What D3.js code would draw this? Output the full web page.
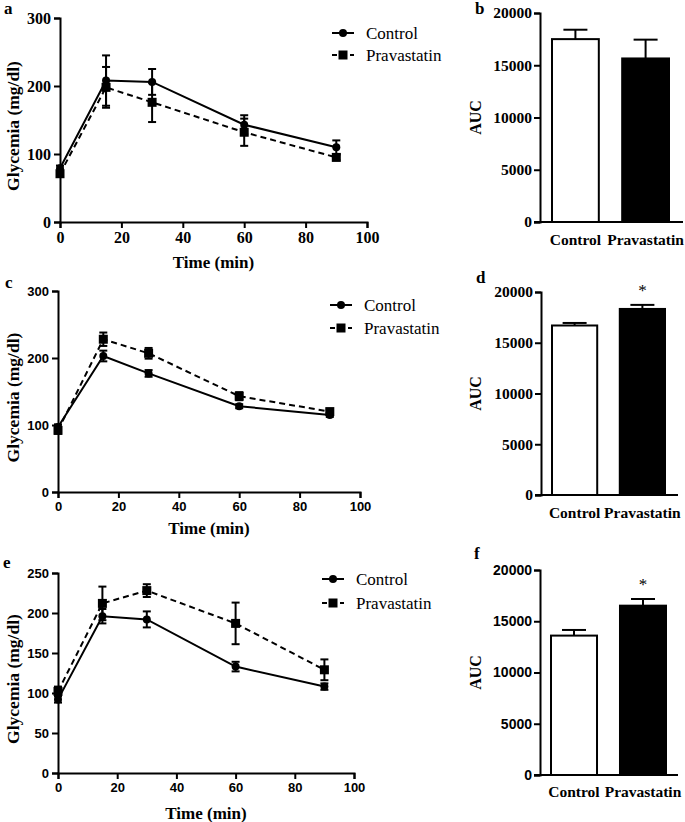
<!DOCTYPE html>
<html>
<head>
<meta charset="utf-8">
<script src="https://cdn.jsdelivr.net/npm/d3@7"></script>
<style>
  html, body { margin: 0; padding: 0; background: #fff; }
  svg { display: block; }
</style>
</head>
<body>
<svg id="chart" width="685" height="822"></svg>
<script>
// ---------- DATA ----------
const timePoints = [0, 15, 30, 60, 90];
const timeTicks = [0, 20, 40, 60, 80, 100];
const seriesNames = ["Control", "Pravastatin"];

const aControl = [79, 208, 206, 143, 110];
const aControlErr = [4, 37, 19, 14, 10];
const aPrava = [71, 198, 176, 132, 95];
const aPravaErr = [4, 30, 29, 20, 4];

const cControl = [97, 203, 177, 128, 115];
const cControlErr = [4, 8, 5, 3, 3];
const cPrava = [92, 228, 207, 143, 120];
const cPravaErr = [5, 10, 8, 6, 3];

const eControl = [92, 196, 192, 133, 108];
const eControlErr = [4, 9, 10, 6, 4];
const ePrava = [102, 212, 228, 187, 129];
const ePravaErr = [6, 21, 8, 26, 13];

const glyTicks300 = [0, 100, 200, 300];
const glyTicks250 = [0, 50, 100, 150, 200, 250];

const barCategories = ["Control", "Pravastatin"];
const bAUC = [17500, 15650];
const bAUCErr = [900, 1800];
const dAUC = [16700, 18330];
const dAUCErr = [250, 400];
const fAUC = [13600, 16520];
const fAUCErr = [550, 650];
const aucTicks = [0, 5000, 10000, 15000, 20000];
const dSignif = ["", "*"];
const fSignif = ["", "*"];

// ---------- DRAWING ----------
const SERIF = "'Liberation Serif', 'Times New Roman', serif";
const SANS = "'Liberation Sans', Arial, sans-serif";
const svg = d3.select("#chart");

function styleAxis(g, font, size) {
  g.attr("font-family", font).attr("font-size", size);
  g.select(".domain").attr("stroke", "#000").attr("stroke-width", 2);
  g.selectAll(".tick line").attr("stroke", "#000").attr("stroke-width", 2);
  g.selectAll(".tick text").attr("fill", "#000")
    .style("font-family", font).style("font-size", size + "px").style("font-weight", "bold");
}

function panelLabel(x, y, t) {
  svg.append("text").attr("x", x).attr("y", y).attr("dy", "0.35em")
    .style("font-family", SERIF).style("font-weight", "bold").style("font-size", "17px")
    .text(t);
}

function marker(g, type, cx, cy) {
  if (type === "circle") {
    g.append("circle").attr("cx", cx).attr("cy", cy).attr("r", 4).attr("fill", "#000");
  } else {
    g.append("rect").attr("x", cx - 4.5).attr("y", cy - 4.5).attr("width", 9).attr("height", 9).attr("fill", "#000");
  }
}

function linePanel(cfg) {
  const x = d3.scaleLinear().domain([0, 100]).range([cfg.x0, cfg.x1]);
  const y = d3.scaleLinear().domain([0, cfg.ymax]).range([cfg.yBot, cfg.yTop]);
  const g = svg.append("g");

  const gy = g.append("g").attr("transform", `translate(${cfg.x0},0)`)
    .call(d3.axisLeft(y).tickValues(cfg.yTicks).tickFormat(d3.format("d")).tickSizeOuter(0).tickSize(6).tickPadding(3));
  styleAxis(gy, cfg.tickFont, cfg.tickSize);
  const gx = g.append("g").attr("transform", `translate(0,${cfg.yBot})`)
    .call(d3.axisBottom(x).tickValues(timeTicks).tickFormat(d3.format("d")).tickSizeOuter(0).tickSize(6).tickPadding(4));
  styleAxis(gx, cfg.tickFont, cfg.tickSize);

  g.append("text")
    .attr("transform", `translate(${cfg.yLabelX},${(cfg.yTop + cfg.yBot) / 2 + 6}) rotate(-90)`)
    .attr("text-anchor", "middle").attr("dy", "0.35em")
    .style("font-family", SERIF).style("font-weight", "bold").style("font-size", "17.5px")
    .text("Glycemia (mg/dl)");
  g.append("text").attr("x", (cfg.x0 + cfg.x1) / 2).attr("y", cfg.xLabelY).attr("dy", "0.35em")
    .attr("text-anchor", "middle")
    .style("font-family", SERIF).style("font-weight", "bold").style("font-size", "17px")
    .text("Time (min)");

  const series = [
    { name: seriesNames[0], v: cfg.control, e: cfg.controlErr, dash: null, m: "circle" },
    { name: seriesNames[1], v: cfg.prava, e: cfg.pravaErr, dash: "6,4", m: "square" }
  ];
  const line = d3.line().x((d, i) => x(timePoints[i])).y(d => y(d));
  series.forEach(s => {
    g.append("path").datum(s.v).attr("d", line).attr("fill", "none")
      .attr("stroke", "#000").attr("stroke-width", 2).attr("stroke-dasharray", s.dash);
    s.v.forEach((v, i) => {
      const cx = x(timePoints[i]);
      const lo = y(v - s.e[i]), hi = y(v + s.e[i]);
      g.append("line").attr("x1", cx).attr("x2", cx).attr("y1", lo).attr("y2", hi)
        .attr("stroke", "#000").attr("stroke-width", 2);
      [lo, hi].forEach(yy => g.append("line").attr("x1", cx - 4).attr("x2", cx + 4)
        .attr("y1", yy).attr("y2", yy).attr("stroke", "#000").attr("stroke-width", 2));
      marker(g, s.m, cx, y(v));
    });
  });

  // legend
  series.forEach((s, i) => {
    const ly = cfg.legY[i];
    g.append("line").attr("x1", cfg.legX).attr("x2", cfg.legX + 22).attr("y1", ly).attr("y2", ly)
      .attr("stroke", "#000").attr("stroke-width", 2).attr("stroke-dasharray", s.dash ? "5,4" : null);
    marker(g, s.m, cfg.legX + 11, ly);
    g.append("text").attr("x", cfg.legX + 34).attr("y", ly).attr("dy", "0.35em")
      .style("font-family", SERIF).style("font-size", "17px").text(s.name);
  });
}

function barPanel(cfg) {
  const y = d3.scaleLinear().domain([0, 20000]).range([cfg.yBot, cfg.yTop]);
  const x = d3.scaleBand().domain(barCategories).range([cfg.b0, cfg.b1]).paddingInner(0.333).paddingOuter(0);
  const g = svg.append("g");
  const gy = g.append("g").attr("transform", `translate(${cfg.ax},0)`)
    .call(d3.axisLeft(y).tickValues(aucTicks).tickFormat(d3.format("d")).tickSizeOuter(0).tickSize(6).tickPadding(2));
  styleAxis(gy, cfg.tickFont, cfg.tickSize);
  g.append("line").attr("x1", cfg.ax - 6).attr("x2", cfg.axEnd).attr("y1", cfg.yBot).attr("y2", cfg.yBot)
    .attr("stroke", "#000").attr("stroke-width", 2);

  cfg.values.forEach((v, i) => {
    const c = barCategories[i];
    const bx = x(c), bw = x.bandwidth(), mid = bx + bw / 2;
    const top = y(v + cfg.errs[i]);
    g.append("line").attr("x1", mid).attr("x2", mid).attr("y1", y(v)).attr("y2", top)
      .attr("stroke", "#000").attr("stroke-width", 2);
    g.append("line").attr("x1", mid - 12).attr("x2", mid + 12).attr("y1", top).attr("y2", top)
      .attr("stroke", "#000").attr("stroke-width", 2);
    g.append("rect").attr("x", bx).attr("y", y(v)).attr("width", bw).attr("height", cfg.yBot - y(v))
      .attr("fill", i === 0 ? "#fff" : "#000").attr("stroke", "#000").attr("stroke-width", 2);
    g.append("text").attr("x", mid).attr("y", cfg.catY).attr("dy", "0.35em").attr("text-anchor", "middle")
      .style("font-family", SERIF).style("font-weight", "bold").style("font-size", "15.5px").text(c);
    if (cfg.signif && cfg.signif[i]) {
      g.append("text").attr("x", mid).attr("y", cfg.starY).attr("dy", "0.35em").attr("text-anchor", "middle")
        .style("font-family", SERIF).style("font-size", "17px").text(cfg.signif[i]);
    }
  });
  g.append("text")
    .attr("transform", `translate(475,${(cfg.yTop + cfg.yBot) / 2}) rotate(-90)`)
    .attr("text-anchor", "middle").attr("dy", "0.35em")
    .style("font-family", SERIF).style("font-weight", "bold").style("font-size", "16px").text("AUC");
}

linePanel({ x0: 60, x1: 367, yTop: 18, yBot: 222, ymax: 300, yTicks: glyTicks300,
  tickFont: SERIF, tickSize: 16, yLabelX: 13, xLabelY: 262,
  control: aControl, controlErr: aControlErr, prava: aPrava, pravaErr: aPravaErr,
  legX: 332, legY: [33, 55] });
linePanel({ x0: 58, x1: 360, yTop: 291, yBot: 492, ymax: 300, yTicks: glyTicks300,
  tickFont: SANS, tickSize: 13, yLabelX: 13, xLabelY: 528,
  control: cControl, controlErr: cControlErr, prava: cPrava, pravaErr: cPravaErr,
  legX: 330, legY: [305, 328] });
linePanel({ x0: 58, x1: 354, yTop: 573, yBot: 773, ymax: 250, yTicks: glyTicks250,
  tickFont: SANS, tickSize: 13, yLabelX: 13, xLabelY: 813,
  control: eControl, controlErr: eControlErr, prava: ePrava, pravaErr: ePravaErr,
  legX: 322, legY: [579, 603] });

barPanel({ ax: 540, axEnd: 683, yTop: 13, yBot: 222, b0: 552, b1: 669, tickFont: SERIF, tickSize: 15.5,
  values: bAUC, errs: bAUCErr, catY: 240 });
barPanel({ ax: 541, axEnd: 678, yTop: 292, yBot: 495, b0: 552, b1: 665, tickFont: SERIF, tickSize: 15.5,
  values: dAUC, errs: dAUCErr, catY: 513, signif: dSignif, starY: 290 });
barPanel({ ax: 540, axEnd: 678, yTop: 570, yBot: 775, b0: 551, b1: 666, tickFont: SANS, tickSize: 14,
  values: fAUC, errs: fAUCErr, catY: 792, signif: fSignif, starY: 584 });

panelLabel(4, 8, "a");
panelLabel(475, 8, "b");
panelLabel(5, 282, "c");
panelLabel(476, 277, "d");
panelLabel(3, 562, "e");
panelLabel(474, 553, "f");
</script>
</body>
</html>
